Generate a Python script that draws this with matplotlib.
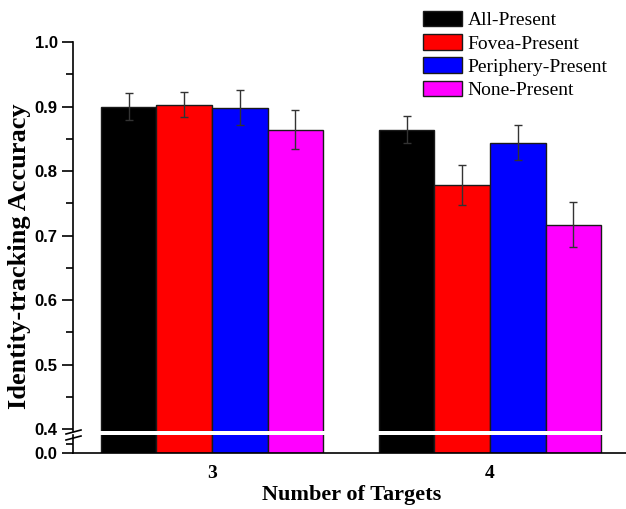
import matplotlib.pyplot as plt
import matplotlib.ticker as mticker
from matplotlib.patches import Patch
import numpy as np

# identity tracking accuracy per condition, grouped by number of targets
targets = [3, 4]
conditions = ['All-Present', 'Fovea-Present', 'Periphery-Present', 'None-Present']
colors = ['#000000', '#ff0000', '#0000ff', '#ff00ff']
acc_all = [0.900, 0.864]
acc_fovea = [0.903, 0.778]
acc_periph = [0.898, 0.844]
acc_none = [0.864, 0.717]
err_all = [0.021, 0.021]
err_fovea = [0.019, 0.031]
err_periph = [0.027, 0.027]
err_none = [0.030, 0.035]

means = [acc_all, acc_fovea, acc_periph, acc_none]
errs = [err_all, err_fovea, err_periph, err_none]

W, H = 626, 509
fig = plt.figure(figsize=(W / 100, H / 100), dpi=100)

def px_box(x0, x1, y_top, y_bot):
    return [x0 / W, 1 - y_bot / H, (x1 - x0) / W, (y_bot - y_top) / H]

ax = fig.add_axes(px_box(73, 629, 42, 431))     # upper part, 0.4 - 1.0
axb = fig.add_axes(px_box(73, 629, 435, 453))   # lower part, just above 0.0

width = 0.2
offsets = [-0.3, -0.1, 0.1, 0.3]
x = np.array(targets, dtype=float)
for a in (ax, axb):
    for m, e, c, off in zip(means, errs, colors, offsets):
        a.bar(x + off, m, width, color=c, edgecolor='#1a1a1a', linewidth=1.0,
              yerr=e, ecolor='#333333', capsize=3,
              error_kw={'elinewidth': 1.0, 'capthick': 1.0})
    a.set_xlim(2.5, 4.5)

ax.set_ylim(0.397, 1.0)
axb.set_ylim(0.0, 0.03)

ax.yaxis.set_major_locator(mticker.MultipleLocator(0.1))
ax.yaxis.set_minor_locator(mticker.MultipleLocator(0.05))
ax.yaxis.set_major_formatter(mticker.FormatStrFormatter('%.1f'))
axb.set_yticks([0.0])
axb.set_yticks([0.015], minor=True)
axb.yaxis.set_major_formatter(mticker.FormatStrFormatter('%.1f'))

for a in (ax, axb):
    for s in ['top', 'right']:
        a.spines[s].set_visible(False)
    a.spines['left'].set_linewidth(1.2)
    a.tick_params(axis='y', which='major', direction='out', length=8, width=1.2,
                  labelsize=12, pad=3)
    a.tick_params(axis='y', which='minor', direction='out', length=5, width=1.2)
    for lab in a.get_yticklabels():
        lab.set_fontfamily('Liberation Sans')
        lab.set_fontweight('bold')

ax.spines['bottom'].set_visible(False)
ax.tick_params(axis='x', bottom=False, labelbottom=False)
axb.spines['bottom'].set_linewidth(1.2)
axb.set_xticks(targets)
axb.set_xticklabels([str(t) for t in targets])
axb.tick_params(axis='x', length=0, pad=9, labelsize=14)
for lab in axb.get_xticklabels():
    lab.set_fontfamily('Liberation Serif')
    lab.set_fontweight('bold')

# break marks on the y axis
for yb in (432, 438):
    fig.add_artist(plt.Line2D([66 / W, 81 / W], [1 - (yb + 2) / H, 1 - (yb - 2) / H],
                              color='black', lw=1.2))

fig.text(20 / W, 1 - 256 / H, 'Identity-tracking Accuracy', rotation=90,
         ha='center', va='center', fontsize=19, fontweight='bold',
         fontfamily='Liberation Serif')
fig.text(352 / W, 1 - 495 / H, 'Number of Targets', ha='center', va='center',
         fontsize=16, fontweight='bold', fontfamily='Liberation Serif')

handles = [Patch(facecolor=c, edgecolor='#1a1a1a', linewidth=1.0) for c in colors]
fig.legend(handles, conditions, loc='upper left',
           bbox_to_anchor=(415 / W, 1 - 3 / H), frameon=False,
           prop={'family': 'Liberation Serif', 'size': 14},
           handlelength=2.0, handleheight=0.85, handletextpad=0.3,
           labelspacing=0.25, borderaxespad=0)

fig.savefig('out.png', dpi=100)
